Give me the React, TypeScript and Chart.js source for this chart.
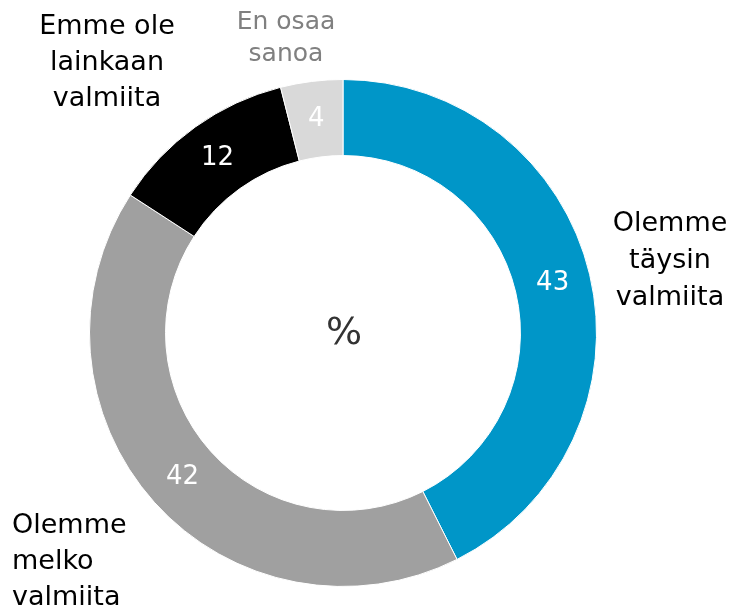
import React, { useEffect, useRef } from "react";
import { Chart, registerables } from "chart.js";

Chart.register(...registerables);

const categories = [
  ["Olemme", "täysin", "valmiita"],
  ["Olemme", "melko", "valmiita"],
  ["Emme ole", "lainkaan", "valmiita"],
  ["En osaa", "sanoa"],
];
const values = [43, 42, 12, 4];
const colors = ["#0096C8", "#A0A0A0", "#000000", "#D9D9D9"];
const valueLabelColors = ["#ffffff", "#ffffff", "#ffffff", "#ffffff"];
const catLabelColors = ["#000000", "#000000", "#000000", "#808080"];
// label placement: offset from chart centre (px), alignment, font size, line height
const catLabelStyle = [
  { dx: 327, dy: -109, align: "center", size: 27, lh: 37 },
  { dx: -331, dy: 193, align: "left", size: 27, lh: 36 },
  { dx: -236, dy: -306, align: "center", size: 27, lh: 36 },
  { dx: -57, dy: -311, align: "center", size: 25, lh: 32 },
];

const FONT = "'DejaVu Sans', Verdana, sans-serif";

const labelPlugin = {
  id: "donutLabels",
  afterDatasetsDraw(chart: any) {
    const ctx = chart.ctx;
    const meta = chart.getDatasetMeta(0);
    const first = meta.data[0];
    const cx = first.x;
    const cy = first.y;
    ctx.save();
    meta.data.forEach((arc: any, i: number) => {
      const mid = (arc.startAngle + arc.endAngle) / 2;
      const r = (arc.innerRadius + arc.outerRadius) / 2;
      ctx.fillStyle = valueLabelColors[i];
      ctx.font = `26px ${FONT}`;
      ctx.textAlign = "center";
      ctx.textBaseline = "middle";
      ctx.fillText(String(values[i]), cx + Math.cos(mid) * r, cy + Math.sin(mid) * r);

      const st = catLabelStyle[i];
      ctx.fillStyle = catLabelColors[i];
      ctx.font = `${st.size}px ${FONT}`;
      ctx.textAlign = st.align;
      ctx.textBaseline = "middle";
      categories[i].forEach((line, j) => {
        ctx.fillText(line, cx + st.dx, cy + st.dy + j * st.lh);
      });
    });
    ctx.fillStyle = "#333333";
    ctx.font = `38px ${FONT}`;
    ctx.textAlign = "center";
    ctx.textBaseline = "middle";
    ctx.fillText("%", cx + 1, cy + 1);
    ctx.restore();
  },
};

export default function App() {
  const ref = useRef<HTMLCanvasElement>(null);
  useEffect(() => {
    if (!ref.current) return;
    const chart = new Chart(ref.current, {
      type: "doughnut",
      data: {
        labels: categories.map((c) => c.join(" ")),
        datasets: [
          {
            data: values,
            backgroundColor: colors,
            borderColor: "#ffffff",
            borderWidth: 1,
          },
        ],
      },
      options: {
        animation: false,
        responsive: false,
        cutout: "70%",
        layout: { padding: { top: 79, bottom: 20, left: 89, right: 141 } },
        plugins: { legend: { display: false }, tooltip: { enabled: false } },
      },
      plugins: [labelPlugin],
    });
    return () => chart.destroy();
  }, []);
  return (
    <div style={{ position: "fixed", left: 0, top: 0, width: 738, height: 607, background: "#fff" }}>
      <canvas ref={ref} width={738} height={607} />
    </div>
  );
}
